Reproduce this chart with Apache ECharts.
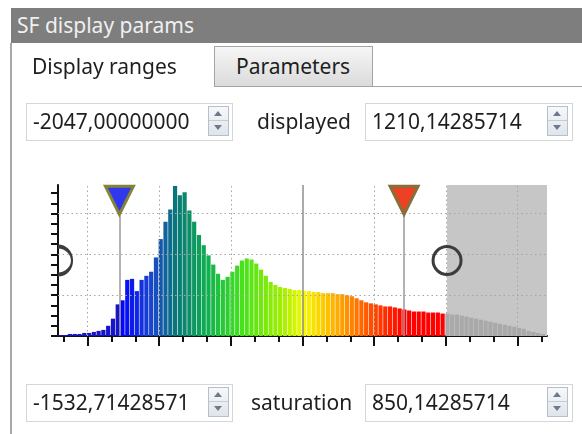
<!DOCTYPE html>
<html>
<head>
<meta charset="utf-8">
<title>SF display params</title>
<script src="https://cdn.jsdelivr.net/npm/echarts@6/dist/echarts.min.js"></script>
<style>
body { margin:0; width:582px; height:434px; overflow:hidden; background:#fff; font-family:"Noto Sans", sans-serif; color:#1e1e1e; }
#chart { position:absolute; left:0; top:0; width:582px; height:434px; }
.abs { position:absolute; }
#titlebar { left:11px; top:8px; width:571px; height:35px; background:#7e7e7e; color:#f0f0f0; font-size:21px; line-height:34px; padding-left:6px; box-sizing:border-box; white-space:nowrap; }
#frame { left:10px; top:43px; width:2px; height:391px; background:#a8a8a8; }
#tab1 { left:32px; top:48px; font-size:21px; line-height:36px; }
#tab2 { left:214px; top:46px; width:159px; height:41px; box-sizing:border-box; border:1px solid #a4a4a4; border-bottom:none; background:linear-gradient(#f6f6f6,#dadada); font-size:21px; line-height:38px; padding-left:21px; }
#tabline { left:214px; top:86px; width:368px; height:1px; background:#a4a4a4; }
.box { position:absolute; height:38px; border:1px solid #d6d6d6; box-sizing:border-box; font-size:21px; line-height:35px; padding-left:6px; white-space:nowrap; }
.spin { position:absolute; top:2px; width:21px; height:30px; border:1px solid #b6c0cc; box-sizing:border-box; background:linear-gradient(#f6f8fa,#dfe5eb); }
.spin:after { content:""; position:absolute; left:0; right:0; top:13px; height:1px; background:#c4ccd6; }
.up, .dn { position:absolute; left:5px; width:0; height:0; border-left:4px solid transparent; border-right:4px solid transparent; }
.up { top:4px; border-bottom:5px solid #6c7a8c; }
.dn { top:18px; border-top:5px solid #6c7a8c; }
.lbl { position:absolute; font-size:21px; line-height:36px; white-space:nowrap; }
</style>
</head>
<body>
<div id="chart"></div>
<div id="titlebar" class="abs">SF display params</div>
<div id="frame" class="abs"></div>
<div id="tab1" class="abs">Display ranges</div>
<div id="tab2" class="abs">Parameters</div>
<div id="tabline" class="abs"></div>

<div class="box" style="left:26px;top:103px;width:207px;"><span id="dispLowTxt"></span><div class="spin" style="right:3px;"><i class="up"></i><i class="dn"></i></div></div>
<div class="lbl" style="left:257px;top:103px;">displayed</div>
<div class="box" style="left:365px;top:103px;width:208px;"><span id="dispHighTxt"></span><div class="spin" style="right:4px;"><i class="up"></i><i class="dn"></i></div></div>

<div class="box" style="left:26px;top:384px;width:207px;"><span id="satLowTxt"></span><div class="spin" style="right:3px;"><i class="up"></i><i class="dn"></i></div></div>
<div class="lbl" style="left:251px;top:384px;">saturation</div>
<div class="box" style="left:365px;top:384px;width:208px;"><span id="satHighTxt"></span><div class="spin" style="right:4px;"><i class="up"></i><i class="dn"></i></div></div>

<script>
// range settings shown in the spin boxes
const displayLow = -2047.0;
const displayHigh = 1210.14285714;
const satLow = -1532.71428571;
const satHigh = 850.14285714;

// x axis (signal value) and y axis (count) extents
const axisMin = -2047;
const axisMax = 2047;
const yMax = 148;
const minorTicks = [-2000, -1800, -1600, -1400, -1200, -1000, -800, -600, -400, -200, 0, 200, 400, 600, 800, 1000, 1200, 1400, 1600, 1800, 2000];
const majorTicks = [-1800, -1200, -600, 0, 600, 1200, 1800];
const yTicks = [0, 10, 20, 30, 40, 50, 60, 70, 80, 90, 100, 110, 120, 130, 140];
const gridX = [-1800, -1200, -600, 600, 1200, 1800];
const gridY = [40, 80, 120];

// histogram, bins of 40 starting at -2047
const binStart = -2047;
const binWidth = 40;
const counts = [
  1, 1, 2, 2, 2, 3, 3, 4, 5, 6,
  10, 17, 31, 35, 55, 56, 44, 55, 59, 63,
  77, 95, 112, 124, 147, 138, 141, 123, 112, 99,
  89, 79, 70, 61, 55, 58, 63, 69, 74, 76,
  75, 71, 65, 59, 53, 50, 48, 47, 46, 45,
  45, 44, 44, 43, 43, 42, 42, 42, 41, 41,
  40, 39, 37, 35, 33, 32, 31, 30, 29, 29,
  28, 27, 26, 25, 24, 24, 24, 23, 23, 23,
  22, 22, 21, 21, 20, 19, 18, 17, 16, 15,
  14, 13, 12, 11, 10, 9, 8, 7, 5, 4,
  3, 2
];

const fmt = v => v.toFixed(8).replace('.', ',');
document.getElementById('dispLowTxt').textContent = fmt(displayLow);
document.getElementById('dispHighTxt').textContent = fmt(displayHigh);
document.getElementById('satLowTxt').textContent = fmt(satLow);
document.getElementById('satHighTxt').textContent = fmt(satHigh);

// blue -> green -> yellow -> red between the saturation limits
const cmap = [
  [0, [0, 0, 255]], [0.11, [26, 68, 208]], [0.2, [10, 120, 120]], [0.31, [16, 176, 80]],
  [0.42, [64, 224, 32]], [0.57, [160, 240, 0]], [0.65, [248, 248, 0]], [0.77, [255, 168, 0]],
  [0.88, [255, 80, 0]], [1, [255, 0, 0]]
];
function colorAt(v) {
  if (v > displayHigh) return '#a9a9a9';
  if (v < satLow) return '#1616c8';
  let t = Math.min(1, (v - satLow) / (satHigh - satLow));
  for (let i = 1; i < cmap.length; i++) {
    if (t <= cmap[i][0]) {
      const a = cmap[i - 1], b = cmap[i];
      const f = (t - a[0]) / (b[0] - a[0]);
      const c = a[1].map((x, j) => Math.round(x + (b[1][j] - x) * f));
      return 'rgb(' + c.join(',') + ')';
    }
  }
  return '#ff0000';
}

const histData = counts.map((c, i) => [binStart + binWidth * (i + 0.5), c]);
const handleY = yMax / 2;
const triY = 133;
const lineTop = 118;

const chart = echarts.init(document.getElementById('chart'));
chart.setOption({
  animation: false,
  grid: { left: 58, top: 185, width: 489, height: 151, outerBoundsMode: 'none' },
  xAxis: [{
    type: 'value', min: axisMin, max: axisMax,
    axisLine: { onZero: false, lineStyle: { color: '#111', width: 2 } },
    axisTick: { show: true, customValues: minorTicks, length: 6, lineStyle: { color: '#111', width: 2 } },
    axisLabel: { show: false }, splitLine: { show: false }
  }, {
    type: 'value', min: axisMin, max: axisMax, position: 'bottom',
    axisLine: { show: false },
    axisTick: { show: true, customValues: majorTicks, length: 10, lineStyle: { color: '#111', width: 2 } },
    axisLabel: { show: false }, splitLine: { show: false }
  }],
  yAxis: {
    type: 'value', min: 0, max: yMax,
    axisLine: { show: true, onZero: false, lineStyle: { color: '#111', width: 2 } },
    axisTick: { show: true, customValues: yTicks, length: 7, lineStyle: { color: '#111', width: 2 } },
    axisLabel: { show: false }, splitLine: { show: false }
  },
  series: [{
    // out of display range
    type: 'line', data: [], z: 0,
    markArea: { silent: true, itemStyle: { color: '#c6c6c6' }, data: [[{ xAxis: displayHigh }, { xAxis: axisMax }]] }
  }, {
    type: 'line', data: [], z: 1,
    markLine: {
      silent: true, symbol: 'none', label: { show: false },
      lineStyle: { color: '#a6a6a6', type: [1.5, 3], width: 1 },
      data: gridX.map(v => ({ xAxis: v }))
        .concat(gridY.map(v => ({ yAxis: v })))
        .concat([
          { xAxis: 0, lineStyle: { type: 'solid', color: '#8e8e8e', width: 1.5 } },
          [{ coord: [satLow, 0], lineStyle: { type: 'solid', color: '#9a9a9a', width: 1.5 } }, { coord: [satLow, lineTop] }],
          [{ coord: [satHigh, 0], lineStyle: { type: 'solid', color: '#9a9a9a', width: 1.5 } }, { coord: [satHigh, lineTop] }]
        ])
    }
  }, {
    type: 'bar', xAxisIndex: 0, z: 3, barWidth: 4.2,
    data: histData,
    itemStyle: { color: p => colorAt(p.value[0]) }
  }, {
    type: 'line', data: [], z: 5,
    markPoint: {
      silent: true, label: { show: false },
      data: [
        { coord: [satLow, triY], symbol: 'path://M0,0L20,0L10,20Z', symbolSize: [28, 28],
          itemStyle: { color: '#3038ee', borderColor: '#86823a', borderWidth: 3 } },
        { coord: [satHigh, triY], symbol: 'path://M0,0L20,0L10,20Z', symbolSize: [28, 28],
          itemStyle: { color: '#ee4024', borderColor: '#86703a', borderWidth: 3 } },
        { coord: [displayLow, handleY], symbol: 'path://M0,0A10,10 0 0 1 0,20', symbolSize: [14, 28], symbolOffset: [7, 0],
          itemStyle: { color: 'none', borderColor: '#3c3c3c', borderWidth: 3 } },
        { coord: [displayHigh, handleY], symbol: 'circle', symbolSize: 28,
          itemStyle: { color: 'rgba(255,255,255,0)', borderColor: '#3c3c3c', borderWidth: 3 } }
      ]
    }
  }]
});
</script>
</body>
</html>
